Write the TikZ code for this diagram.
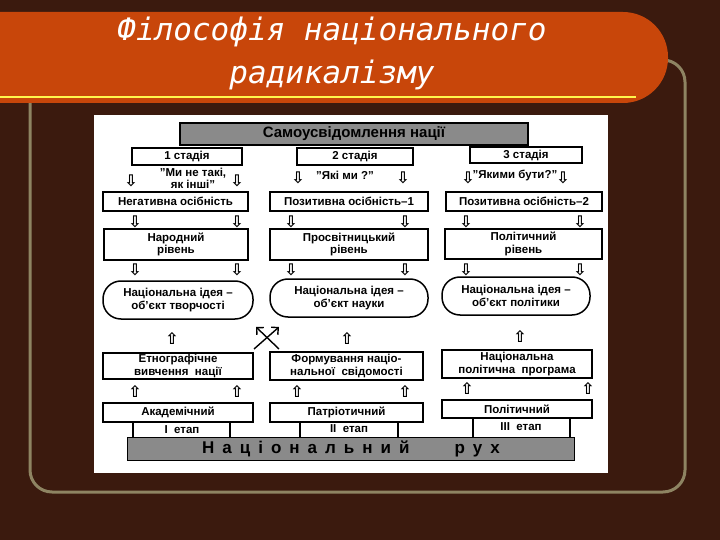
\documentclass[tikz,border=0pt]{standalone}
\usepackage{fontspec}
\usetikzlibrary{arrows.meta}
\setmainfont{Liberation Sans}
\newfontfamily\titlefont{DejaVu Sans Mono}
\newfontfamily\symfont{DejaVu Sans}
\definecolor{bgbrown}{HTML}{3B1A0E}
\definecolor{barorange}{HTML}{C8460A}
\definecolor{frameol}{HTML}{8E8462}
\definecolor{bangray}{HTML}{8A8A8A}
\tikzset{
 bx/.style={draw=black,line width=1.5pt,fill=white,inner sep=1pt,align=center,font=\bfseries\fontsize{11.5}{12.5}\selectfont},
 ban/.style={draw=black,line width=1.5pt,fill=bangray,font=\bfseries\fontsize{15}{15}\selectfont,text=black},
 ar/.style={inner sep=0pt,font=\symfont\bfseries\fontsize{16}{16}\selectfont},
 tx/.style={inner sep=0pt,align=center,font=\bfseries\fontsize{11.5}{12}\selectfont},
 oval/.style={draw=black,line width=1.5pt,fill=white,rounded corners=18pt,align=center,font=\bfseries\fontsize{11.5}{12.5}\selectfont}
}
\newcommand{\bxat}[6]{\node[bx,minimum width=#4-#2,minimum height=#5-#3] (#1) at ({(#2+#4)/2},{(#3+#5)/2}) {#6};}
\begin{document}
\begin{tikzpicture}[x=1pt,y=-1pt]
\fill[bgbrown] (0,0) rectangle (720,540);
\useasboundingbox (0,0) rectangle (720,540);
% frame
\draw[frameol,line width=3pt,rounded corners=22pt] (30,60) rectangle (685,492);
% title bar
\fill[barorange,rounded corners=45pt] (-60,12) rectangle (668,103);
\fill[barorange] (0,12) rectangle (100,103);
\draw[yellow!70!white,line width=1.5pt] (0,97) -- (636,97);
\node[text=white,font=\titlefont\itshape\fontsize{31}{31}\selectfont] (t1) at (332,32) {Філософія національного};
\node[text=white,font=\titlefont\itshape\fontsize{31}{31}\selectfont] (t2) at (332,75) {радикалізму};
% white image
\fill[white] (94,115) rectangle (608,473);
% top banner
\node[ban,minimum width=348,minimum height=22] (topb) at (354,134) {Самоусвідомлення нації};
% stages
\bxat{s1}{132}{148}{242}{165}{1 стадія}
\bxat{s2}{297}{148}{413}{165}{2 стадія}
\bxat{s3}{470}{147}{582}{163}{3 стадія}
\node[tx] (q1) at (193,178) {"Ми не такі,\\ як інші"};
\node[tx] (q2) at (345,175) {"Які ми ?"};
\node[tx] (q3) at (515,175) {"Якими бути?"};
\foreach \n/\x/\y in {a1/131/181,a2/237/181,a3/298/178,a4/403/178,a5/468/178,a6/563/178,
 b1/135/222,b2/237/222,b3/291/222,b4/405/222,b5/466/222,b6/580/222,
 c1/135/270,c2/237/270,c3/291/270,c4/405/270,c5/466/270,c6/580/270}
 \node[ar] (\n) at (\x,\y) {⇩};
\bxat{n1}{103}{192}{248}{211}{Негативна осібність}
\bxat{n2}{270}{192}{428}{211}{Позитивна осібність--1}
\bxat{n3}{446}{192}{602}{211}{Позитивна осібність--2}
\bxat{l1}{104}{229}{248}{260}{Народний\\рівень}
\bxat{l2}{270}{229}{428}{260}{Просвітницький\\рівень}
\bxat{l3}{445}{229}{602}{259}{Політичний\\рівень}
\node[oval,minimum width=150,minimum height=38] (o1) at (178,300) {Національна ідея --\\об'єкт творчості};
\node[oval,minimum width=158,minimum height=38] (o2) at (349,298) {Національна ідея --\\об'єкт науки};
\node[oval,minimum width=148,minimum height=38] (o3) at (516,296) {Національна ідея --\\об'єкт політики};
% cross arrows
\coordinate (x1) at (254,349); \coordinate (x2) at (279,327);
\coordinate (x3) at (279,349); \coordinate (x4) at (256,327);
\draw[line width=1.4pt,-{Straight Barb[length=5pt]}] (x1) -- (x2);
\draw[line width=1.4pt,-{Straight Barb[length=5pt]}] (x3) -- (x4);
\foreach \n/\x/\y in {u1/172/338,u2/347/338,u3/520/336,
 v1/135/391,v2/237/391,v3/297/391,v4/405/391,v5/467/388,v6/588/388}
 \node[ar] (\n) at (\x,\y) {⇧};
\bxat{f1}{103}{353}{253}{379}{Етнографічне\\вивчення \ нації}
\bxat{f2}{270}{352}{423}{380}{Формування націо-\\нальної \ свідомості}
\bxat{f3}{442}{350}{592}{378}{Національна\\політична \ програма}
\bxat{e1}{133}{419}{230}{440}{}
\bxat{e2}{300}{418}{398}{440}{}
\bxat{e3}{473}{414}{570}{440}{}
\node[tx] (e1t) at (182,430) {І \ етап};
\node[tx] (e2t) at (349,429) {ІІ \ етап};
\node[tx] (e3t) at (521,427) {ІІІ \ етап};
\bxat{g1}{103}{403}{253}{422}{Академічний}
\bxat{g2}{270}{403}{423}{422}{Патріотичний}
\bxat{g3}{442}{400}{592}{418}{Політичний}
\node[ban,minimum width=447,minimum height=23,font=\bfseries\fontsize{17}{17}\selectfont] (bot) at (351,449) {Н\hspace{8pt}а\hspace{8pt}ц\hspace{8pt}і\hspace{8pt}о\hspace{8pt}н\hspace{8pt}а\hspace{8pt}л\hspace{8pt}ь\hspace{8pt}н\hspace{8pt}и\hspace{8pt}й\hspace{45pt}р\hspace{8pt}у\hspace{8pt}х};
\end{tikzpicture}
\end{document}
